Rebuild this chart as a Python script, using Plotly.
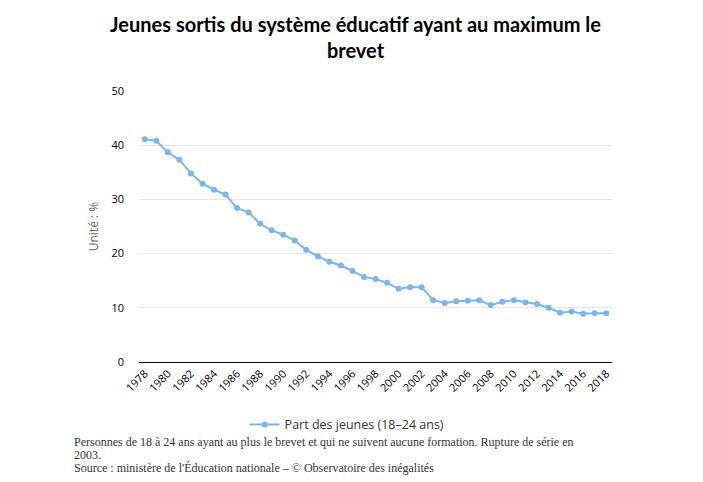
import plotly.graph_objects as go

# -------------------------------
# DATA
# -------------------------------
years = list(range(1978, 2019))
part_jeunes = [41.1, 40.8, 38.7, 37.3, 34.8, 32.9, 31.8, 30.9, 28.4, 27.6,
               25.5, 24.3, 23.5, 22.4, 20.7, 19.5, 18.5, 17.8, 16.8, 15.7,
               15.3, 14.6, 13.5, 13.8, 13.8, 11.4, 10.9, 11.2, 11.3, 11.4,
               10.5, 11.1, 11.4, 11.0, 10.7, 10.0, 9.1, 9.3, 8.9, 9.0, 9.0]
tick_years = list(range(1978, 2019, 2))

title = "Jeunes sortis du système éducatif ayant au maximum le<br>brevet"
series_name = "Part des jeunes (18–24 ans)"
caption_lines = [
    "Personnes de 18 à 24 ans ayant au plus le brevet et qui ne suivent aucune formation. Rupture de série en",
    "2003.",
    "Source : ministère de l'Éducation nationale – © Observatoire des inégalités",
]

# -------------------------------
# PLOT
# -------------------------------
fig = go.Figure()

fig.add_trace(go.Scatter(
    x=years,
    y=part_jeunes,
    mode="lines+markers",
    name=series_name,
    line=dict(color="#7cb5ec", width=2),
    marker=dict(color="#7cb5ec", size=6, symbol="circle")
))

# caption: one annotation per line to keep the tight line spacing
for i, line in enumerate(caption_lines):
    fig.add_annotation(
        text=line, xref="paper", yref="paper", x=-0.142, y=-0.295 - i * 0.048,
        xanchor="left", yanchor="middle", align="left", showarrow=False,
        font=dict(family="Liberation Serif", size=12, color="#333333")
    )

# page body has an 8px margin, so the figure is a bit smaller and shifted
fig.update_layout(
    width=695, height=474,
    margin=dict(l=131, r=91, t=83, b=120),
    paper_bgcolor="white", plot_bgcolor="white",
    title=dict(text=title, x=0.5, xanchor="center", y=0.95, yanchor="top",
               font=dict(family="Lato", size=20, color="#000000", weight="bold")),
    font=dict(family="Open Sans", size=11, color="#333333"),
    showlegend=True,
    legend=dict(orientation="h", x=0.44, xanchor="center", y=-0.232, yanchor="middle",
                font=dict(family="Open Sans", size=12.5, color="#333333")),
)

fig.update_xaxes(
    range=[1977.5, 2018.5],
    tickvals=tick_years,
    ticktext=[str(y) for y in tick_years],
    tickangle=-45,
    showgrid=False,
    showline=True, linecolor="#000000", linewidth=1,
    zeroline=False,
    tickfont=dict(family="Open Sans", size=11, color="#000000")
)

fig.update_yaxes(
    range=[0, 50],
    tickvals=[0, 10, 20, 30, 40, 50],
    showgrid=True, gridcolor="#e6e6e6", gridwidth=1,
    zeroline=False, showline=False,
    ticklabelstandoff=14,
    tickfont=dict(family="Open Sans", size=11, color="#000000"),
    title=dict(text="Unité : %", standoff=10,
               font=dict(family="Open Sans", size=12, color="#666666"))
)

fig.write_html("out.html")
